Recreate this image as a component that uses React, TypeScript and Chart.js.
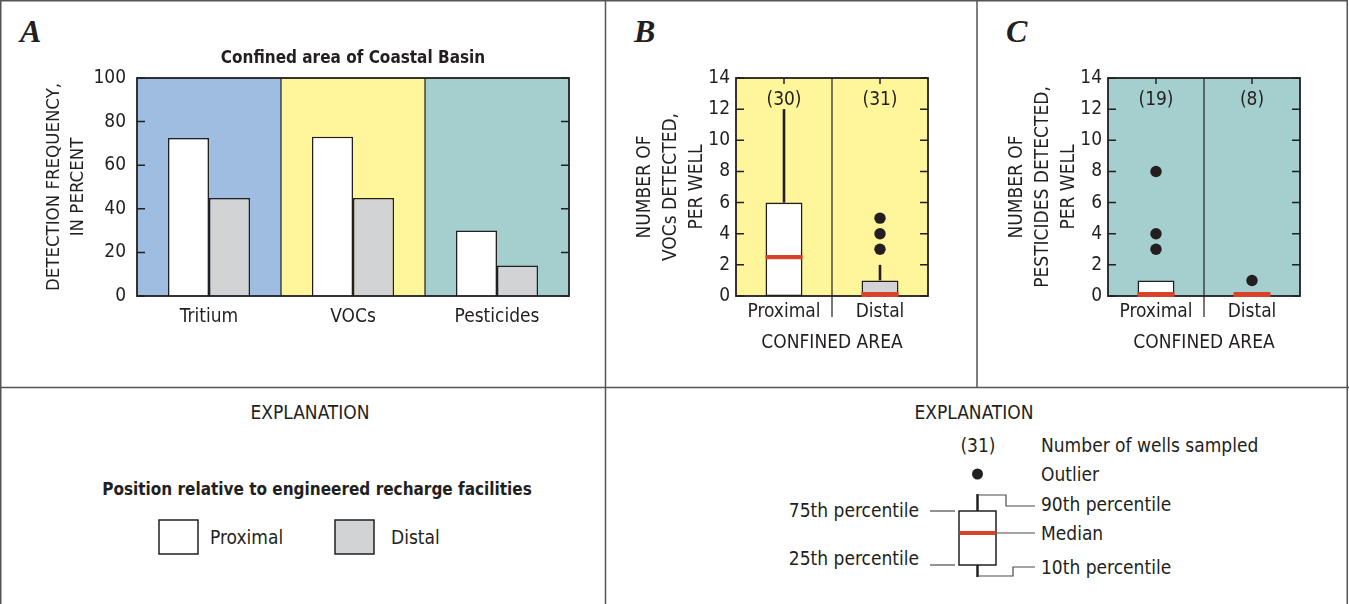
import React, { useEffect, useRef } from 'react';
import { Chart, registerables } from 'chart.js';

Chart.register(...registerables);

const FONT = "'Liberation Sans Narrow', 'Arial Narrow', 'DejaVu Sans Condensed', 'Roboto Condensed', 'Liberation Sans', sans-serif";
const SERIF = "'Liberation Serif', 'DejaVu Serif', serif";
const INK = '#231f20';
const RED = '#d8412a';
const GRAY = '#d1d3d4';
const BLUE = '#9ebde0';
const YELLOW = '#fff59b';
const TEAL = '#a4cfce';

// ---------- Panel A data ----------
const A_TITLE = 'Confined area of Coastal Basin';
const A_CATEGORIES = ['Tritium', 'VOCs', 'Pesticides'];
const A_PROXIMAL = [72.5, 73, 30];
const A_DISTAL = [45, 45, 14];
const A_Y_TITLE = ['DETECTION FREQUENCY,', 'IN PERCENT'];

// ---------- Panel B data ----------
const POSITIONS = ['Proximal', 'Distal'];
const B_COUNTS = ['(30)', '(31)'];
const B_P10 = [0, 0];
const B_Q25 = [0, 0];
const B_MEDIAN = [2.5, 0];
const B_Q75 = [6, 1];
const B_P90 = [12, 2];
const B_OUTLIER_POS = ['Distal', 'Distal', 'Distal'];
const B_OUTLIER_VAL = [3, 4, 5];
const B_Y_TITLE = ['NUMBER OF', 'VOCs DETECTED,', 'PER WELL'];

// ---------- Panel C data ----------
const C_COUNTS = ['(19)', '(8)'];
const C_P10 = [0, 0];
const C_Q25 = [0, 0];
const C_MEDIAN = [0, 0];
const C_Q75 = [1, 0];
const C_P90 = [1, 0];
const C_OUTLIER_POS = ['Proximal', 'Proximal', 'Proximal', 'Distal'];
const C_OUTLIER_VAL = [3, 4, 8, 1];
const C_Y_TITLE = ['NUMBER OF', 'PESTICIDES DETECTED,', 'PER WELL'];

const X_TITLE = 'CONFINED AREA';

const decorPlugin: any = {
  id: 'decor',
  beforeDatasetsDraw(chart: any, _a: any, opts: any) {
    const { ctx, chartArea: ca, scales } = chart;
    const x = scales.x;
    const n = chart.data.labels.length;
    const w = ca.width / n;
    ctx.save();
    opts.bands.forEach((c: string, i: number) => {
      const cx = x.getPixelForValue(i);
      ctx.fillStyle = c;
      ctx.fillRect(cx - w / 2, ca.top, w, ca.height);
    });
    ctx.strokeStyle = INK;
    ctx.lineWidth = 1.2;
    for (let i = 0; i < n - 1; i++) {
      const xm = (x.getPixelForValue(i) + x.getPixelForValue(i + 1)) / 2;
      ctx.beginPath();
      ctx.moveTo(xm, ca.top);
      ctx.lineTo(xm, ca.bottom + opts.sepExtend);
      ctx.stroke();
    }
    ctx.restore();
  },
  afterDatasetsDraw(chart: any, _a: any, opts: any) {
    const { ctx, chartArea: ca, scales } = chart;
    const x = scales.x;
    const y = scales.y;
    ctx.save();
    ctx.strokeStyle = INK;
    ctx.lineWidth = 1.8;
    ctx.strokeRect(ca.left, ca.top, ca.width, ca.height);
    ctx.lineWidth = 1.5;
    y.ticks.forEach((t: any) => {
      const py = y.getPixelForValue(t.value);
      ctx.beginPath();
      ctx.moveTo(ca.left, py);
      ctx.lineTo(ca.left + 8, py);
      ctx.moveTo(ca.right, py);
      ctx.lineTo(ca.right - 8, py);
      ctx.stroke();
    });
    if (opts.topTicks) {
      chart.data.labels.forEach((_l: string, i: number) => {
        const px = x.getPixelForValue(i);
        ctx.beginPath();
        ctx.moveTo(px, ca.top);
        ctx.lineTo(px, ca.top + 6);
        ctx.stroke();
      });
    }
    ctx.restore();
  },
};

const boxPlugin: any = {
  id: 'boxExtras',
  afterDatasetsDraw(chart: any, _a: any, opts: any) {
    if (!opts || !opts.median) return;
    const { ctx, chartArea: ca, scales } = chart;
    const x = scales.x;
    const y = scales.y;
    const idx = chart.data.datasets.findIndex((d: any) => d.type === 'bar');
    const meta = chart.getDatasetMeta(idx);
    ctx.save();
    opts.median.forEach((m: number, i: number) => {
      const cx = x.getPixelForValue(i);
      const bw = meta.data[i].width;
      ctx.strokeStyle = INK;
      ctx.lineWidth = 2.6;
      if (opts.p90[i] > opts.q75[i]) {
        ctx.beginPath();
        ctx.moveTo(cx, y.getPixelForValue(opts.q75[i]));
        ctx.lineTo(cx, y.getPixelForValue(opts.p90[i]));
        ctx.stroke();
      }
      if (opts.p10[i] < opts.q25[i]) {
        ctx.beginPath();
        ctx.moveTo(cx, y.getPixelForValue(opts.q25[i]));
        ctx.lineTo(cx, y.getPixelForValue(opts.p10[i]));
        ctx.stroke();
      }
      const atBase = m === y.min;
      const my = y.getPixelForValue(m) - (atBase ? 1.5 : 0);
      ctx.strokeStyle = RED;
      ctx.lineWidth = atBase ? 5 : 4.2;
      ctx.beginPath();
      ctx.moveTo(cx - bw / 2, my);
      ctx.lineTo(cx + bw / 2, my);
      ctx.stroke();
      ctx.fillStyle = INK;
      ctx.font = `19px ${FONT}`;
      ctx.textAlign = 'center';
      ctx.textBaseline = 'middle';
      ctx.fillText(opts.counts[i], cx, ca.top + 22);
    });
    ctx.restore();
  },
};

const tickFont = { family: FONT, size: 19, lineHeight: 1.2 };

function buildA(canvas: HTMLCanvasElement) {
  return new Chart(canvas, {
    type: 'bar',
    data: {
      labels: A_CATEGORIES,
      datasets: [
        { label: 'Proximal', data: A_PROXIMAL, backgroundColor: '#ffffff', borderColor: INK, borderWidth: 1.5, categoryPercentage: 0.57, barPercentage: 1 },
        { label: 'Distal', data: A_DISTAL, backgroundColor: GRAY, borderColor: INK, borderWidth: 1.5, categoryPercentage: 0.57, barPercentage: 1 },
      ],
    },
    options: {
      responsive: false,
      animation: false,
      devicePixelRatio: 1,
      events: [],
      layout: { padding: { left: 0, right: 36, top: 0, bottom: 51 } },
      plugins: {
        legend: { display: false },
        tooltip: { enabled: false },
        title: {
          display: true,
          text: A_TITLE,
          fullSize: false,
          color: INK,
          font: { family: FONT, size: 17, weight: 'bold', lineHeight: 1.2 },
          padding: { top: 48, bottom: 9.6 },
        },
        decor: { bands: [BLUE, YELLOW, TEAL], sepExtend: 0, topTicks: false },
      },
      scales: {
        x: {
          grid: { display: false, drawTicks: false },
          border: { display: false },
          ticks: { color: INK, font: tickFont, padding: 10 },
          afterFit: (s: any) => { s.height = 40; },
        },
        y: {
          min: 0,
          max: 100,
          grid: { display: false, drawTicks: false },
          border: { display: false },
          ticks: { stepSize: 20, color: INK, font: tickFont, padding: 11 },
          title: { display: true, text: A_Y_TITLE, color: INK, font: { family: FONT, size: 18.5, lineHeight: 1.25 }, padding: { top: 43, bottom: 0 } },
          afterFit: (s: any) => { s.width = 137; },
        },
      },
    } as any,
    plugins: [decorPlugin],
  });
}

function buildBox(canvas: HTMLCanvasElement, cfg: any) {
  const boxes = cfg.q25.map((q: number, i: number) => [q, cfg.q75[i]]);
  const outliers = cfg.outPos.map((p: string, i: number) => ({ x: p, y: cfg.outVal[i] }));
  return new Chart(canvas, {
    type: 'bar',
    data: {
      labels: POSITIONS,
      datasets: [
        {
          type: 'line',
          label: 'Outliers',
          data: outliers,
          showLine: false,
          pointRadius: 5.7,
          pointHoverRadius: 5.7,
          pointBackgroundColor: INK,
          pointBorderWidth: 0,
          borderColor: INK,
        },
        {
          type: 'bar',
          label: 'Box',
          data: boxes,
          backgroundColor: cfg.boxColors,
          borderColor: INK,
          borderWidth: 1.6,
          borderSkipped: false,
          categoryPercentage: 1,
          barPercentage: 0.385,
        },
      ],
    },
    options: {
      responsive: false,
      animation: false,
      devicePixelRatio: 1,
      events: [],
      layout: { padding: { left: 0, right: 49, top: 78, bottom: 31 } },
      plugins: {
        legend: { display: false },
        tooltip: { enabled: false },
        decor: { bands: [cfg.band, cfg.band], sepExtend: 21, topTicks: true },
        boxExtras: { median: cfg.median, p10: cfg.p10, q25: cfg.q25, q75: cfg.q75, p90: cfg.p90, counts: cfg.counts },
      },
      scales: {
        x: {
          grid: { display: false, drawTicks: false },
          border: { display: false },
          ticks: { color: INK, font: tickFont, padding: 5 },
          title: { display: true, text: X_TITLE, color: INK, font: tickFont, padding: { top: 0, bottom: 1.6 } },
          afterFit: (s: any) => { s.height = 60; },
        },
        y: {
          min: 0,
          max: 14,
          grid: { display: false, drawTicks: false },
          border: { display: false },
          ticks: { stepSize: 2, color: INK, font: tickFont, padding: 6 },
          title: { display: true, text: cfg.yTitle, color: INK, font: { family: FONT, size: 19, lineHeight: 1.37 }, padding: { top: 27, bottom: 0 } },
          afterFit: (s: any) => { s.width = 131; },
        },
      },
    } as any,
    plugins: [decorPlugin, boxPlugin],
  });
}

function ChartCanvas(props: { left: number; top: number; width: number; height: number; build: (c: HTMLCanvasElement) => Chart }) {
  const ref = useRef<HTMLCanvasElement>(null);
  useEffect(() => {
    const chart = props.build(ref.current as HTMLCanvasElement);
    return () => chart.destroy();
  }, []);
  return (
    <canvas
      ref={ref}
      width={props.width}
      height={props.height}
      style={{ position: 'absolute', left: props.left, top: props.top, width: props.width, height: props.height }}
    />
  );
}

const B_CFG = { q25: B_Q25, q75: B_Q75, p10: B_P10, p90: B_P90, median: B_MEDIAN, counts: B_COUNTS, outPos: B_OUTLIER_POS, outVal: B_OUTLIER_VAL, band: YELLOW, boxColors: ['#ffffff', GRAY], yTitle: B_Y_TITLE };
const C_CFG = { q25: C_Q25, q75: C_Q75, p10: C_P10, p90: C_P90, median: C_MEDIAN, counts: C_COUNTS, outPos: C_OUTLIER_POS, outVal: C_OUTLIER_VAL, band: TEAL, boxColors: ['#ffffff', '#ffffff'], yTitle: C_Y_TITLE };

const buildB = (c: HTMLCanvasElement) => buildBox(c, B_CFG);
const buildC = (c: HTMLCanvasElement) => buildBox(c, C_CFG);

export default function App() {
  const txt = { fontFamily: FONT, fill: INK, fontSize: 19 } as any;
  const lead = { stroke: '#4a4a4a', strokeWidth: 1.2, fill: 'none' } as any;
  const letter = { fontFamily: SERIF, fontWeight: 'bold', fontStyle: 'italic', fontSize: 32, fill: INK } as any;
  return (
    <div style={{ position: 'absolute', left: 0, top: 0, width: 1349, height: 604, background: '#ffffff', overflow: 'hidden' }}>
      <svg width={1349} height={604} style={{ position: 'absolute', left: 0, top: 0 }}>
        <rect x={0.75} y={0.75} width={1346.5} height={612} fill="none" stroke="#555" strokeWidth={1.5} />
        <line x1={0} y1={387.5} x2={1349} y2={387.5} stroke="#555" strokeWidth={1.5} />
        <line x1={605.5} y1={0} x2={605.5} y2={604} stroke="#555" strokeWidth={1.5} />
        <line x1={977} y1={0} x2={977} y2={387.5} stroke="#555" strokeWidth={1.5} />

        <text {...letter} x={20} y={42}>A</text>
        <text {...letter} x={634} y={42}>B</text>
        <text {...letter} x={1006} y={42}>C</text>

        {/* Explanation for A */}
        <text {...txt} x={310} y={412} textAnchor="middle" dominantBaseline="central">EXPLANATION</text>
        <text {...txt} x={317} y={489} textAnchor="middle" dominantBaseline="central" fontWeight="bold" fontSize={17}>Position relative to engineered recharge facilities</text>
        <rect x={159} y={520} width={39} height={34} fill="#ffffff" stroke={INK} strokeWidth={1.5} />
        <text {...txt} x={210} y={537} dominantBaseline="central">Proximal</text>
        <rect x={335} y={520} width={39} height={34} fill={GRAY} stroke={INK} strokeWidth={1.5} />
        <text {...txt} x={391} y={537} dominantBaseline="central">Distal</text>

        {/* Explanation for B and C */}
        <text {...txt} x={974} y={412} textAnchor="middle" dominantBaseline="central">EXPLANATION</text>
        <text {...txt} x={978} y={445} textAnchor="middle" dominantBaseline="central">(31)</text>
        <text {...txt} x={1041} y={445} dominantBaseline="central">Number of wells sampled</text>
        <circle cx={977.5} cy={474} r={5.5} fill={INK} />
        <text {...txt} x={1041} y={474} dominantBaseline="central">Outlier</text>
        <line x1={977.5} y1={494} x2={977.5} y2={511} stroke={INK} strokeWidth={2.5} />
        <rect x={959} y={511} width={37} height={54} fill="#ffffff" stroke={INK} strokeWidth={1.5} />
        <line x1={959.5} y1={533} x2={995.5} y2={533} stroke={RED} strokeWidth={4} />
        <line x1={977.5} y1={565} x2={977.5} y2={577} stroke={INK} strokeWidth={2.5} />
        <polyline points="979,495 1006,495 1006,506 1035,506" {...lead} />
        <text {...txt} x={1041} y={504} dominantBaseline="central">90th percentile</text>
        <line x1={997} y1={533} x2={1035} y2={533} {...lead} />
        <text {...txt} x={1041} y={533} dominantBaseline="central">Median</text>
        <polyline points="979,576 1013,576 1013,567 1035,567" {...lead} />
        <text {...txt} x={1041} y={567} dominantBaseline="central">10th percentile</text>
        <text {...txt} x={919} y={510} textAnchor="end" dominantBaseline="central">75th percentile</text>
        <line x1={930} y1={511} x2={955} y2={511} {...lead} />
        <text {...txt} x={919} y={558} textAnchor="end" dominantBaseline="central">25th percentile</text>
        <line x1={930} y1={565} x2={955} y2={565} {...lead} />
      </svg>
      <ChartCanvas left={0} top={0} width={605} height={387} build={buildA} />
      <ChartCanvas left={605} top={0} width={372} height={387} build={buildB} />
      <ChartCanvas left={977} top={0} width={372} height={387} build={buildC} />
    </div>
  );
}
